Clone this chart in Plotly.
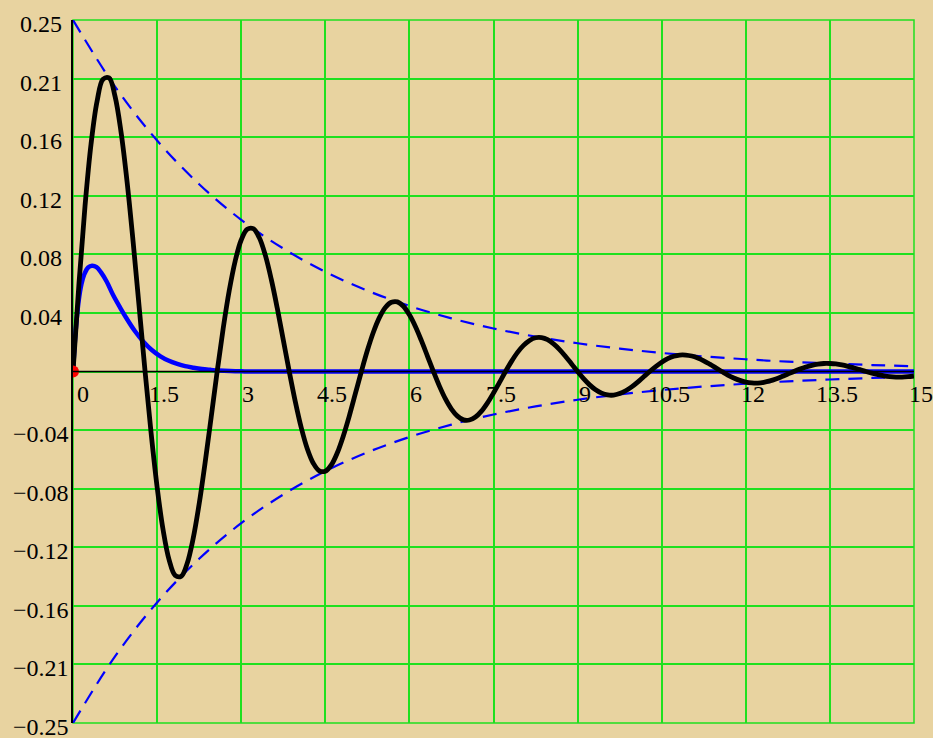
import plotly.graph_objects as go

# ---- axis settings -------------------------------------------------------
X_RANGE = [0, 15]
Y_RANGE = [-0.25, 0.25]
x_ticks = [0, 1.5, 3, 4.5, 6, 7.5, 9, 10.5, 12, 13.5, 15]
x_tick_labels = ["0", "1.5", "3", "4.5", "6", "7.5", "9", "10.5", "12", "13.5", "15"]
y_ticks = [0.25, 0.2083, 0.1667, 0.125, 0.0833, 0.0417, 0.0,
           -0.0417, -0.0833, -0.125, -0.1667, -0.2083, -0.25]
y_tick_labels = ["0.25", "0.21", "0.16", "0.12", "0.08", "0.04", "",
                 "\u22120.04", "\u22120.08", "\u22120.12", "\u22120.16", "\u22120.21", "\u22120.25"]

# ---- decaying envelope (upper / lower) ----------------------------------
env_t = [0, 0.75, 1.5, 2.25, 3, 3.75, 4.5, 5.25, 6, 6.75, 7.5, 8.25, 9, 9.75,
         10.5, 11.25, 12, 12.75, 13.5, 14.25, 15]
env_upper = [0.250, 0.2026, 0.1643, 0.1332, 0.1079, 0.0875, 0.0709, 0.0575, 0.0466,
             0.0378, 0.0306, 0.0248, 0.0201, 0.0163, 0.0132, 0.0107, 0.0087,
             0.0070, 0.0057, 0.0046, 0.0037]
env_lower = [-0.250, -0.2026, -0.1643, -0.1332, -0.1079, -0.0875, -0.0709, -0.0575,
             -0.0466, -0.0378, -0.0306, -0.0248, -0.0201, -0.0163, -0.0132, -0.0107,
             -0.0087, -0.0070, -0.0057, -0.0046, -0.0037]

# ---- aperiodic response (blue) ------------------------------------------
blue_t = [0, 0.02, 0.05, 0.1, 0.15, 0.2, 0.27, 0.34, 0.42, 0.5, 0.6, 0.72, 0.84,
          0.96, 1.1, 1.26, 1.4, 1.56, 1.7, 1.86, 2.0, 2.15, 2.3, 2.45, 2.6, 2.8,
          3.0, 3.5, 15]
blue_y = [0, 0.013, 0.030, 0.050, 0.062, 0.069, 0.074, 0.0752, 0.0742, 0.0705,
          0.0640, 0.0540, 0.0455, 0.0375, 0.0290, 0.0210, 0.0155, 0.0108, 0.0078,
          0.0054, 0.0038, 0.0027, 0.0018, 0.0012, 0.0007, 0.0003, 0.0001, 0, 0]

# ---- damped oscillation (black), sampled every 15/140 s -----------------
osc_t = [round(k * 15 / 140, 4) for k in range(141)]
osc_y = [
    0, 0.0628, 0.1177, 0.1616, 0.1920, 0.2078, 0.2088, 0.1957, 0.1703, 0.1350,
    0.0926, 0.0465, 0, -0.0438, -0.0821, -0.1127, -0.1340, -0.1450, -0.1457, -0.1366,
    -0.1188, -0.0942, -0.0646, -0.0325, 0, 0.0306, 0.0573, 0.0786, 0.0935, 0.1012,
    0.1016, 0.0953, 0.0829, 0.0657, 0.0451, 0.0226, 0, -0.0213, -0.0400, -0.0549,
    -0.0652, -0.0706, -0.0709, -0.0665, -0.0578, -0.0458, -0.0315, -0.0158, 0, 0.0149,
    0.0279, 0.0383, 0.0455, 0.0492, 0.0495, 0.0464, 0.0403, 0.0320, 0.0219, 0.0110,
    0, -0.0104, -0.0195, -0.0267, -0.0317, -0.0344, -0.0345, -0.0324, -0.0282, -0.0223,
    -0.0153, -0.0077, 0, 0.0072, 0.0136, 0.0186, 0.0221, 0.0240, 0.0241, 0.0226,
    0.0196, 0.0156, 0.0107, 0.0054, 0, -0.0051, -0.0095, -0.0130, -0.0154, -0.0167,
    -0.0168, -0.0157, -0.0137, -0.0109, -0.0075, -0.0037, 0, 0.0035, 0.0066, 0.0091,
    0.0108, 0.0117, 0.0117, 0.0110, 0.0096, 0.0076, 0.0052, 0.0026, 0, -0.0025,
    -0.0046, -0.0063, -0.0075, -0.0081, -0.0082, -0.0077, -0.0067, -0.0053, -0.0036, -0.0018,
    0, 0.0017, 0.0032, 0.0044, 0.0052, 0.0057, 0.0057, 0.0054, 0.0047, 0.0037,
    0.0025, 0.0013, 0, -0.0012, -0.0022, -0.0031, -0.0037, -0.0040, -0.0040, -0.0037,
    -0.0032,
]

# starting point marker
start_t = [0]
start_y = [0]

BG = "#E8D3A0"
GRID = "#1FE01F"
FONT = "Liberation Serif, Times New Roman, serif"

fig = go.Figure()

for ys in (env_upper, env_lower):
    fig.add_trace(go.Scatter(
        x=env_t, y=ys, mode="lines", line_shape="spline",
        line=dict(color="#0000FF", width=2.2, dash="14px,9px"),
        hoverinfo="skip", showlegend=False))

fig.add_trace(go.Scatter(
    x=blue_t, y=blue_y, mode="lines", line_shape="spline",
    line=dict(color="#0000FF", width=4.5), showlegend=False))

fig.add_trace(go.Scatter(
    x=osc_t, y=osc_y, mode="lines", line_shape="spline",
    line=dict(color="#000000", width=4.8), showlegend=False))

fig.add_trace(go.Scatter(
    x=start_t, y=start_y, mode="markers",
    marker=dict(color="#FF0000", size=12), showlegend=False))

# green frame around the plotting area (grid edges)
fig.add_shape(type="rect", xref="paper", yref="paper", x0=0, x1=1, y0=0, y1=1,
              line=dict(color=GRID, width=1.5), layer="below")

# horizontal axis line through zero
fig.add_shape(type="line", xref="x", yref="y",
              x0=X_RANGE[0], x1=X_RANGE[1], y0=0, y1=0,
              line=dict(color="#000000", width=1.6), layer="above")

# tick labels: y labels centred left of the axis, x labels under the zero line
annotations = []
for v, lab in zip(y_ticks, y_tick_labels):
    if lab:
        annotations.append(dict(x=0, y=v, xref="x", yref="y", text=lab,
                                showarrow=False, xanchor="center", yanchor="middle",
                                xshift=-32, yshift=-4,
                                font=dict(family=FONT, size=24, color="#000000")))
for v, lab in zip(x_ticks, x_tick_labels):
    annotations.append(dict(x=v, y=0, xref="x", yref="y", text=lab,
                            showarrow=False, xanchor="center", yanchor="middle",
                            xshift=7 if v else 10, yshift=-22,
                            font=dict(family=FONT, size=24, color="#000000")))

fig.update_layout(
    width=933, height=738,
    margin=dict(l=73, r=19, t=20, b=15),
    paper_bgcolor=BG, plot_bgcolor=BG,
    showlegend=False,
    annotations=annotations,
    xaxis=dict(range=X_RANGE, tickvals=x_ticks, showticklabels=False,
               showgrid=True, gridcolor=GRID, gridwidth=1.5,
               zeroline=False, showline=False, ticks=""),
    yaxis=dict(range=Y_RANGE, tickvals=y_ticks, showticklabels=False,
               showgrid=True, gridcolor=GRID, gridwidth=1.5,
               zeroline=False, showline=True, linecolor="#000000", linewidth=2,
               ticks=""),
)

fig.write_html("out.html")
